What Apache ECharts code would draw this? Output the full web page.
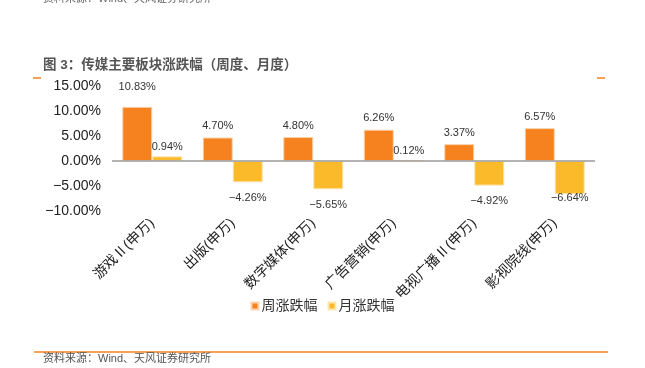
<!DOCTYPE html>
<html>
<head>
<meta charset="utf-8">
<script src="https://cdn.jsdelivr.net/npm/echarts@6/dist/echarts.min.js"></script>
<style>
html, body { margin: 0; padding: 0; background: #fff; }
#chart { width: 645px; height: 368px; }
</style>
</head>
<body>
<div id="chart"></div>
<script>
let categories = ['游戏Ⅱ(申万)', '出版(申万)', '数字媒体(申万)', '广告营销(申万)', '电视广播Ⅱ(申万)', '影视院线(申万)']
let weekly = [10.83, 4.70, 4.80, 6.26, 3.37, 6.57]
let monthly = [0.94, -4.26, -5.65, 0.12, -4.92, -6.64]
let yTicks = [-10, -5, 0, 5, 10, 15]

let font = "'Liberation Sans', Arial, 'Noto Sans CJK SC', sans-serif"
let orange = '#F5821F'
let yellow = '#FBBA2A'

function pct(v) {
    let s = Math.abs(v).toFixed(2) + '%'
    return v < 0 ? '\u2212' + s : s
}

// a few labels sit a bit off the default spot in the original
let weeklyData = weekly.map((v, i) => {
    let item = { value: v }
    if (i === 0) item.label = { distance: 14 }
    return item
})
let monthlyData = monthly.map((v, i) => {
    let item = { value: v }
    if (v < 0) item.label = { position: 'bottom', distance: 10 }
    if (i === 5) item.label = { position: 'bottom', distance: 10, offset: [0, -12] }
    return item
})

let option = {
    animation: false,
    textStyle: { fontFamily: font },
    graphic: [
        { type: 'text', left: 43, top: -7, style: { text: '资料来源：Wind、天风证券研究所', fontSize: 11, fill: '#666', fontFamily: font } },
        { type: 'text', left: 43, top: 59, style: { text: '图 3：传媒主要板块涨跌幅（周度、月度）', fontSize: 13.5, fontWeight: 'bold', fill: '#555', fontFamily: font } },
        { type: 'line', shape: { x1: 33, y1: 78, x2: 41, y2: 78 }, style: { stroke: orange, lineWidth: 1.5 } },
        { type: 'line', shape: { x1: 597, y1: 78, x2: 605, y2: 78 }, style: { stroke: orange, lineWidth: 1.5 } },
        { type: 'line', shape: { x1: 34, y1: 352, x2: 608, y2: 352 }, style: { stroke: orange, lineWidth: 1.5 } },
        { type: 'text', left: 43, top: 353, style: { text: '资料来源：Wind、天风证券研究所', fontSize: 11, fill: '#555', fontFamily: font } }
    ],
    legend: {
        data: ['周涨跌幅', '月涨跌幅'],
        left: 'center',
        top: 294,
        icon: 'rect',
        itemWidth: 7,
        itemHeight: 7,
        itemGap: 10,
        textStyle: { fontSize: 14, color: '#333', padding: [0, 0, 0, -2] }
    },
    grid: {
        left: 112,
        right: 50,
        top: 86,
        bottom: 157
    },
    xAxis: {
        type: 'category',
        data: categories,
        axisLine: { show: false, onZero: false },
        axisTick: { show: false },
        axisLabel: {
            interval: 0,
            rotate: 45,
            margin: 10,
            fontSize: 14,
            color: '#222'
        }
    },
    yAxis: {
        type: 'value',
        min: yTicks[0],
        max: yTicks[yTicks.length - 1],
        interval: 5,
        axisLine: { show: false },
        axisTick: { show: false },
        splitLine: { show: false },
        axisLabel: {
            fontSize: 14,
            color: '#222',
            margin: 11,
            formatter: v => pct(v)
        }
    },
    series: [{
        name: '周涨跌幅',
        type: 'bar',
        barWidth: 30,
        barGap: 0,
        data: weeklyData,
        itemStyle: { color: orange, borderColor: '#FBD3AE', borderWidth: 1 },
        label: {
            show: true,
            position: 'top',
            distance: 6,
            fontSize: 11,
            color: '#333',
            formatter: p => pct(p.value)
        },
        markLine: {
            silent: true,
            symbol: 'none',
            label: { show: false },
            lineStyle: { color: '#9a9a9a', width: 1.5, type: 'solid' },
            data: [{ yAxis: 0 }]
        }
    }, {
        name: '月涨跌幅',
        type: 'bar',
        barWidth: 30,
        barGap: 0,
        data: monthlyData,
        itemStyle: { color: yellow, borderColor: '#FDE6B0', borderWidth: 1 },
        label: {
            show: true,
            position: 'top',
            distance: 4,
            fontSize: 11,
            color: '#333',
            formatter: p => pct(p.value)
        }
    }]
}

var myChart = echarts.init(document.getElementById('chart'))
myChart.setOption(option)
</script>
</body>
</html>
